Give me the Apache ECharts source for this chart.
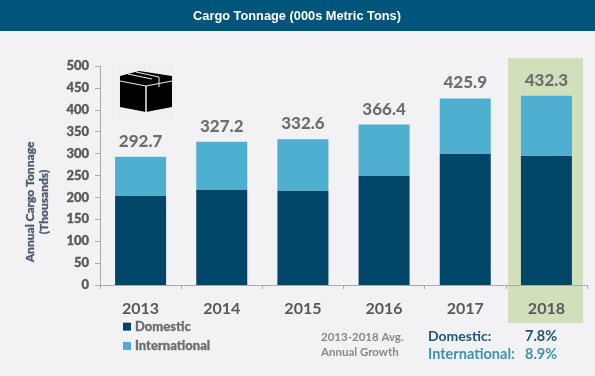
<!DOCTYPE html>
<html>
<head>
<meta charset="utf-8">
<style>
  html, body { margin: 0; padding: 0; background: #f2f2f4; }
  #chart { width: 595px; height: 376px; }
</style>
<script src="https://cdn.jsdelivr.net/npm/echarts@6/dist/echarts.min.js"></script>
</head>
<body>
<div id="chart"></div>
<script>
const years = ['2013', '2014', '2015', '2016', '2017', '2018']
const domestic = [203, 218, 216, 250, 300, 295]
const international = [89.7, 109.2, 116.6, 116.4, 125.9, 137.3]
const totals = ['292.7', '327.2', '332.6', '366.4', '425.9', '432.3']
const yTicks = { min: 0, max: 500, interval: 50 }

const FONT = 'Lato, "Open Sans", sans-serif'
const GREY = '#6d6e71'
const AXIS = '#a9aaad'
const ICON_LINE = '#f0f0f0'

const chart = echarts.init(document.getElementById('chart'), null, { renderer: 'canvas' })

chart.setOption({
  animation: false,
  backgroundColor: '#f2f2f4',
  grid: { left: 100, right: 8, top: 66, bottom: 91 },
  xAxis: {
    type: 'category',
    data: years,
    axisLine: { lineStyle: { color: AXIS, width: 1 } },
    axisTick: { show: true, length: 4, lineStyle: { color: AXIS } },
    axisLabel: { color: '#58585a', fontFamily: FONT, fontWeight: 700, fontSize: 16, margin: 16 },
  },
  yAxis: {
    type: 'value',
    min: yTicks.min, max: yTicks.max, interval: yTicks.interval,
    splitLine: { show: false },
    axisLine: { show: true, lineStyle: { color: AXIS, width: 1 } },
    axisTick: { show: true, length: 5, lineStyle: { color: AXIS } },
    axisLabel: {
      color: '#58585a', fontFamily: FONT, fontWeight: 900, fontSize: 13, margin: 11,
      textBorderColor: '#58585a', textBorderWidth: 0.3,
    },
  },
  legend: {
    orient: 'vertical', left: 123, top: 320,
    itemWidth: 8, itemHeight: 8, itemGap: 6, padding: 0,
    icon: 'rect',
    textStyle: {
      color: GREY, fontFamily: FONT, fontWeight: 900, fontSize: 13, padding: [0, 0, 0, -1],
      textBorderColor: GREY, textBorderWidth: 0.3,
    },
    data: ['Domestic', 'International'],
  },
  series: [
    {
      name: 'Domestic', type: 'bar', stack: 'cargo', barWidth: 51,
      itemStyle: { color: '#004669' }, data: domestic,
    },
    {
      name: 'International', type: 'bar', stack: 'cargo', barWidth: 51,
      itemStyle: { color: '#4fafd0' }, data: international,
      label: {
        show: true, position: 'top', distance: 7,
        color: GREY, fontFamily: FONT, fontWeight: 900, fontSize: 17,
        formatter: p => totals[p.dataIndex],
      },
    },
  ],
  graphic: [
    // header strip
    { type: 'rect', z: 0, shape: { x: 0, y: 0, width: 595, height: 31 }, style: { fill: '#00567a' } },
    { type: 'text', z: 1, x: 297, y: 16, style: {
      text: 'Cargo Tonnage (000s Metric Tons)', fill: '#fff',
      font: 'bold 12.8px "Liberation Sans", Arial, sans-serif', textAlign: 'center', textVerticalAlign: 'middle',
    } },
    // 2018 highlight
    { type: 'rect', z: 0, shape: { x: 508, y: 58, width: 75, height: 265 }, style: { fill: '#d2dfbb' } },
    // axis title
    { type: 'text', z: 1, x: 37, y: 202, rotation: Math.PI / 2, style: {
      text: 'Annual Cargo Tonnage\n(Thousands)', fill: '#4d5c6e', lineHeight: 14,
      font: `900 12px ${FONT}`, textAlign: 'center', textVerticalAlign: 'middle',
      textStroke: '#4d5c6e', stroke: '#4d5c6e', lineWidth: 0.3,
    } },
    // box icon
    { type: 'rect', z: 0, shape: { x: 117, y: 64, width: 57, height: 56 }, style: { fill: '#f0f0f0' } },
    { type: 'polygon', z: 1, shape: { points: [[120, 76], [139, 71], [172, 76], [172, 107], [146, 112], [120, 107]] }, style: { fill: '#000' } },
    { type: 'polyline', z: 2, shape: { points: [[120, 81], [146, 86], [172, 81]] }, style: { stroke: ICON_LINE, fill: null, lineWidth: 1 } },
    { type: 'line', z: 2, shape: { x1: 146, y1: 86, x2: 146, y2: 112 }, style: { stroke: ICON_LINE, lineWidth: 1.5 } },
    { type: 'line', z: 2, shape: { x1: 128, y1: 74, x2: 152, y2: 79 }, style: { stroke: ICON_LINE, lineWidth: 1 } },
    { type: 'polyline', z: 2, shape: { points: [[136, 72], [159, 77], [159, 87]] }, style: { stroke: ICON_LINE, fill: null, lineWidth: 1 } },
    // growth note
    { type: 'text', z: 1, x: 321, y: 330, style: {
      text: '2013-2018 Avg.\nAnnual Growth', fill: '#87888a', lineHeight: 15,
      font: `700 11.5px ${FONT}`, textVerticalAlign: 'top',
    } },
    { type: 'text', z: 1, x: 428, y: 336, style: { text: 'Domestic:', fill: '#1d5573', font: `700 14px ${FONT}`, textVerticalAlign: 'middle' } },
    { type: 'text', z: 1, x: 525, y: 336, style: { text: '7.8%', fill: '#1d5573', font: `700 14.5px ${FONT}`, textVerticalAlign: 'middle' } },
    { type: 'text', z: 1, x: 428, y: 354, style: { text: 'International:', fill: '#3f93ab', font: `700 14.5px ${FONT}`, textVerticalAlign: 'middle' } },
    { type: 'text', z: 1, x: 525, y: 354, style: { text: '8.9%', fill: '#3f93ab', font: `700 14.5px ${FONT}`, textVerticalAlign: 'middle' } },
  ],
})
</script>
</body>
</html>
